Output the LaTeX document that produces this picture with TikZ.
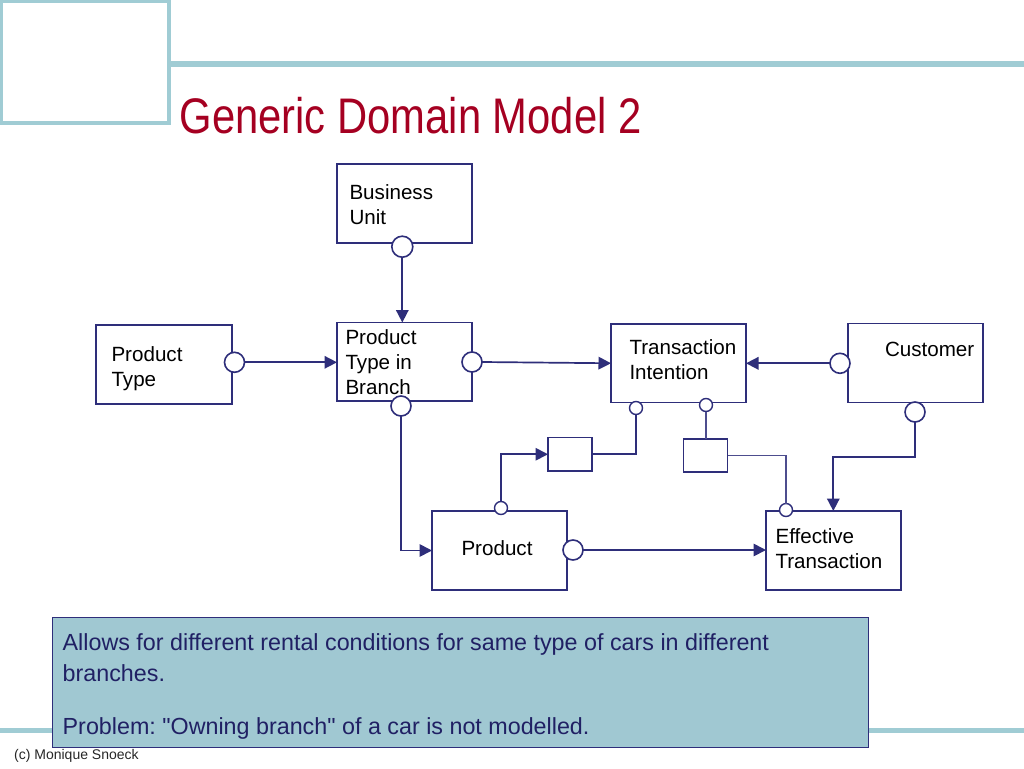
\documentclass[tikz,border=0pt]{standalone}
\usepackage{fontspec}
\setmainfont{Liberation Sans}
\newfontfamily\capfont{Liberation Sans}
\usetikzlibrary{arrows.meta,calc}
\definecolor{navy}{RGB}{46,46,122}
\definecolor{teal1}{RGB}{160,204,212}
\definecolor{capfill}{RGB}{160,200,210}
\definecolor{titlered}{RGB}{165,0,33}
\definecolor{captext}{RGB}{32,32,100}
\newcommand\tl[1]{\begin{tabular}[t]{@{}l@{}}#1\end{tabular}}
\frenchspacing
\tikzset{
  ent/.style={rectangle, draw=navy, line width=1.6pt, fill=white, anchor=north west, inner sep=0pt, outer sep=0pt},
  rcirc/.style={circle, draw=navy, fill=white, line width=1.6pt, minimum size=20pt, inner sep=0pt, outer sep=0pt},
  scirc/.style={circle, draw=navy, fill=white, line width=1.4pt, minimum size=13pt, inner sep=0pt, outer sep=0pt},
  lbl/.style={anchor=base west, inner sep=0pt, outer sep=0pt, font=\fontsize{20.6pt}{25.2pt}\selectfont},
  conn/.style={draw=navy, line width=1.7pt},
  thinconn/.style={draw=navy!85, line width=1.3pt},
  arr/.style={conn, -{Triangle[length=12.5pt,width=12.5pt]}},
  deco/.style={draw=teal1},
}
\begin{document}
\begin{tikzpicture}[x=1pt,y=-1pt]
\useasboundingbox (0,0) rectangle (1024,768);
% slide decoration
\draw[deco, line width=3.5pt] (1.7,1.7) rectangle (169,123);
\draw[deco, line width=5.5pt] (171,64) -- (1024,64);
\draw[deco, line width=4.5pt] (0,730.5) -- (1024,730.5);
% title
\node[anchor=base west, inner sep=0pt, text=titlered, font=\fontsize{50pt}{60pt}\selectfont] (title) at (179.5,133.3) {\scalebox{0.835}[1]{Generic Domain Model 2}};
% entity boxes
\node[ent, minimum width=135pt, minimum height=79pt] (bu) at (337,164) {};
\node[ent, minimum width=135pt, minimum height=78.5pt] (ptib) at (337,322.5) {};
\node[ent, minimum width=136pt, minimum height=79pt] (pt) at (96,325) {};
\node[ent, minimum width=135pt, minimum height=78.5pt] (ti) at (611,324) {};
\node[ent, minimum width=135pt, minimum height=79pt] (cu) at (848,323.5) {};
\node[ent, minimum width=135pt, minimum height=79pt] (prod) at (432,511) {};
\node[ent, minimum width=135pt, minimum height=79pt] (et) at (766,511) {};
\node[ent, minimum width=44pt, minimum height=33.5pt] (sa) at (548,437.5) {};
\node[ent, minimum width=44pt, minimum height=33pt] (sb) at (683.5,439) {};
% labels
\node[lbl] (bul) at (349.5,199.3) {\tl{Business\\Unit}};
\node[lbl] (ptibl) at (345.5,344.3) {\tl{Product\\Type in\\Branch}};
\node[lbl] (ptl) at (111.5,361.7) {\tl{Product\\Type}};
\node[lbl] (til) at (629.5,354) {\tl{Transaction\\Intention}};
\node[lbl] (cul) at (885,356) {Customer};
\node[lbl] (prodl) at (461.5,555.3) {Product};
\node[lbl] (etl) at (775.5,543.3) {\tl{Effective\\Transaction}};
% connection circles
\node[rcirc, minimum size=21pt] (bu_c) at (402.3,246.7) {};
\node[rcirc] (ptib_r) at (472,362) {};
\node[rcirc] (ptib_b) at (401,406) {};
\node[rcirc] (pt_c) at (234.5,362.3) {};
\node[rcirc] (cu_l) at (840,363.3) {};
\node[rcirc] (cu_b) at (915,412) {};
\node[rcirc] (prod_r) at (573,550) {};
\node[scirc] (ti_1) at (636,408) {};
\node[scirc] (ti_2) at (706,405) {};
\node[scirc] (prod_t) at (501,508) {};
\node[scirc] (et_c) at (786,510) {};
% connectors
\draw[arr] (bu_c.south) -- (bu_c |- ptib.north);
\draw[arr] (pt_c.east) -- (ptib.west |- pt_c);
\draw[arr] (ptib_r.east) -- (ti.west);
\draw[arr] (cu_l.west) -- (ti.east |- cu_l);
\draw[arr] (ptib_b.south) |- (prod.west);
\draw[arr] (prod_r.east) -- (et.west |- prod_r);
\coordinate (k1) at (833.3,456.7);
\draw[arr] (cu_b.south) |- (k1) -- (k1 |- et.north);
\draw[arr] (prod_t.north) |- (sa.west);
\draw[conn] (sa.east) -| (ti_1.south);
\draw[thinconn] (ti_2.south) -- (ti_2 |- sb.north);
\draw[thinconn] (sb.east) -| (et_c.north);
% caption
\node[rectangle, draw=navy, fill=capfill, line width=0.9pt, anchor=north west, inner sep=0pt, outer sep=0pt, minimum width=816pt, minimum height=130.5pt] (cap) at (52.3,617.3) {};
\node[anchor=base west, inner sep=0pt, text=captext, font=\capfont\fontsize{23.3pt}{31pt}\selectfont] (captxt) at (62.5,650.7) {\tl{Allows for different rental conditions for same type of cars in different\\branches.\\[21.3pt]Problem: "Owning branch" of a car is not modelled.}};
% footer
\node[anchor=base west, inner sep=0pt, text=black!85, font=\fontsize{14pt}{16pt}\selectfont] (foot) at (14,759.3) {(c) Monique Snoeck};
\end{tikzpicture}
\end{document}
